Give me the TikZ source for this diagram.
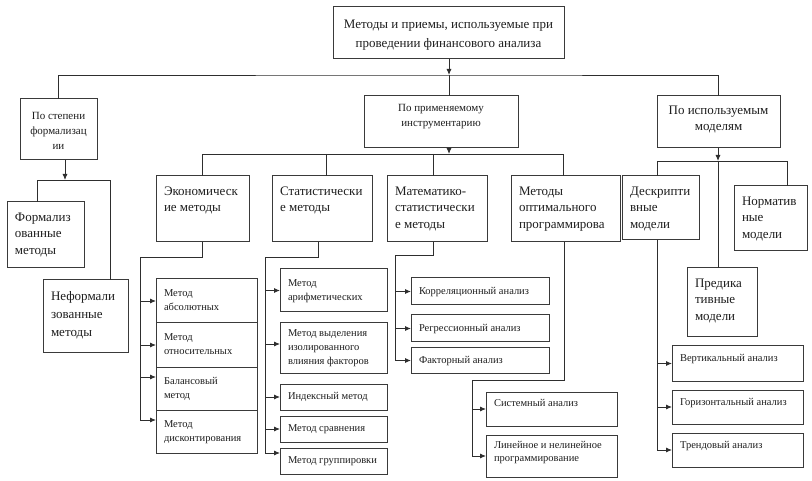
\documentclass[tikz,border=0pt]{standalone}
\usepackage{fontspec}
\setmainfont{Liberation Serif}
\usetikzlibrary{arrows.meta}
\definecolor{bordc}{HTML}{3A3A3A}
\definecolor{linec}{HTML}{2E2E2E}
\definecolor{txtc}{HTML}{1E1E1E}
\newcommand\ftop{\fontsize{13}{19}\selectfont}
\newcommand\fbig{\fontsize{13}{16.5}\selectfont}
\newcommand\fhd{\fontsize{11}{15}\selectfont}
\newcommand\fsm{\fontsize{10.5}{14}\selectfont}
\newcommand\tpad{\vspace*{7.5pt}}
% name, x1, y1, x2, y2, vpos, format, text
\newcommand\bx[8]{%
  \pgfmathsetmacro\bw{#4-#2-16}%
  \pgfmathsetmacro\bh{#5-#3}%
  \node[box,anchor=north west] (#1) at (#2,#3)
    {\parbox[c][\bh pt][#6]{\bw pt}{#7\hyphenpenalty=10000\exhyphenpenalty=10000\strut #8}};}
\tikzset{
  box/.style={draw=bordc,line width=1pt,inner xsep=8pt,inner ysep=0pt,outer sep=0pt,text=txtc,fill=white},
  ln/.style={draw=linec,line width=0.9pt},
  ar/.style={ln,-{Latex[length=6pt,width=5pt]}}
}
\begin{document}
\begin{tikzpicture}[x=1pt,y=-1pt]
\useasboundingbox[fill=white] (0,0) rectangle (812,481);

% ---- level 0 / 1
\bx{top}{333}{7}{564}{59}{c}{\ftop\centering}{Методы и приемы, используемые при\\проведении финансового анализа}
\bx{deg}{20}{99}{97}{160}{c}{\fhd\centering}{По степени\\формализац\\ии}
\bx{inst}{364}{96}{518}{148}{t}{\fhd\centering\vspace*{5pt}}{По применяемому\\инструментарию}
\bx{mod}{657}{96}{780}{148}{t}{\fbig\centering\vspace*{6.5pt}}{По используемым\\моделям}

% ---- level 2
\bx{form}{7}{202}{84}{268}{t}{\fbig\raggedright\tpad}{Формализ\\ованные\\методы}
\bx{inform}{43}{280}{128}{353}{t}{\fontsize{13}{18}\selectfont\raggedright\tpad}{Неформали\\зованные\\методы}
\bx{eco}{156}{176}{249}{242}{t}{\fbig\raggedright\tpad}{Экономическ\\ие методы}
\bx{stat}{272}{176}{372}{242}{t}{\fbig\raggedright\tpad}{Статистически\\е методы}
\bx{math}{387}{176}{487}{242}{t}{\fbig\raggedright\tpad}{Математико-\\статистически\\е методы}
\bx{opt}{511}{176}{620}{242}{t}{\fbig\raggedright\tpad}{Методы\\оптимального\\программирова}
\bx{desc}{622}{176}{699}{240}{t}{\fbig\raggedright\tpad}{Дескрипти\\вные\\модели}
\bx{norm}{734}{186}{807}{251}{t}{\fbig\raggedright\tpad}{Норматив\\ные\\модели}
\bx{pred}{687}{268}{757}{337}{t}{\fbig\raggedright\tpad}{Предика\\тивные\\модели}

% ---- economic methods
\bx{e1}{156}{279}{257}{323}{t}{\fsm\raggedright\tpad}{Метод\\абсолютных}
\bx{e2}{156}{323}{257}{367}{t}{\fsm\raggedright\tpad}{Метод\\относительных}
\bx{e3}{156}{367}{257}{410}{t}{\fsm\raggedright\tpad}{Балансовый\\метод}
\bx{e4}{156}{410}{257}{453}{t}{\fsm\raggedright\tpad}{Метод\\дисконтирования}

% ---- statistical methods
\bx{s1}{280}{269}{387}{312}{t}{\fsm\raggedright\tpad}{Метод\\арифметических}
\bx{s2}{280}{323}{387}{373}{t}{\fsm\raggedright\vspace*{4pt}}{Метод выделения\\изолированного\\влияния факторов}
\bx{s3}{280}{384}{387}{410}{c}{\fsm\raggedright}{Индексный метод}
\bx{s4}{280}{416}{387}{442}{c}{\fsm\raggedright}{Метод сравнения}
\bx{s5}{280}{448}{387}{474}{c}{\fsm\raggedright}{Метод группировки}

% ---- math-stat methods
\bx{m1}{411}{278}{549}{305}{c}{\fsm\raggedright}{Корреляционный анализ}
\bx{m2}{411}{315}{549}{342}{c}{\fsm\raggedright}{Регрессионный анализ}
\bx{m3}{411}{348}{549}{373}{c}{\fsm\raggedright}{Факторный анализ}

% ---- optimal programming
\bx{o1}{486}{392}{617}{426}{t}{\fsm\raggedright\vspace*{5pt}}{Системный анализ}
\bx{o2}{486}{435}{617}{477}{t}{\fontsize{10.5}{12.5}\selectfont\raggedright\vspace*{5pt}}{Линейное и нелинейное\\программирование}

% ---- descriptive models
\bx{d1}{672}{346}{803}{381}{t}{\fsm\raggedright\vspace*{6pt}}{Вертикальный анализ}
\bx{d2}{672}{390}{803}{424}{t}{\fsm\raggedright\vspace*{6pt}}{Горизонтальный анализ}
\bx{d3}{672}{433}{803}{467}{t}{\fsm\raggedright\vspace*{6pt}}{Трендовый анализ}

% ================= connectors
% top bus
\coordinate (j0) at (449,75);
\draw[ar] (top.south -| j0) -- (j0);
\draw[ln] (deg.north) |- (j0) -| (mod.north);
\draw[ln] (j0) -- (j0 |- inst.north);

% formalisation bus
\coordinate (j1) at (65,180);
\coordinate (j1a) at (37,180);
\coordinate (j1b) at (110,180);
\draw[ar] (deg.south -| j1) -- (j1);
\draw[ln] (j1a |- form.north) -- (j1a) -- (j1b) -- (j1b |- inform.north);

% instruments bus
\coordinate (j2) at (449,154);
\coordinate (j2a) at (202,154);
\coordinate (j2b) at (326,154);
\coordinate (j2c) at (433,154);
\coordinate (j2d) at (563,154);
\draw[ar] (j2 |- inst.south) -- (j2);
\draw[ln] (j2a |- eco.north) -- (j2a) -- (j2d) -- (j2d |- opt.north);
\draw[ln] (j2b) -- (j2b |- stat.north);
\draw[ln] (j2c) -- (j2c |- math.north);

% models bus
\coordinate (j3) at (718,161);
\coordinate (j3a) at (657,161);
\coordinate (j3b) at (787,161);
\draw[ar] (j3 |- mod.south) -- (j3);
\draw[ln] (j3a |- desc.north) -- (j3a) -- (j3b) -- (j3b |- norm.north);
\draw[ln] (j3) -- (j3 |- pred.north);

% economic
\coordinate (ke) at (202,257);
\coordinate (kx) at (140,257);
\coordinate (e3a) at ([yshift=11.5pt]e3.west);
\coordinate (e4a) at ([yshift=11.5pt]e4.west);
\draw[ln] (ke |- eco.south) -- (ke) -- (kx) -- (kx |- e4a);
\draw[ar] (kx |- e1.west) -- (e1.west);
\draw[ar] (kx |- e2.west) -- (e2.west);
\draw[ar] (kx |- e3a) -- (e3a);
\draw[ar] (kx |- e4a) -- (e4a);

% statistical
\coordinate (ks) at (318,257);
\coordinate (ksx) at (265,257);
\coordinate (s2a) at ([yshift=4pt]s2.west);
\coordinate (s5a) at ([yshift=8pt]s5.west);
\draw[ln] (ks |- stat.south) -- (ks) -- (ksx) -- (ksx |- s5a);
\draw[ar] (ksx |- s1.west) -- (s1.west);
\draw[ar] (ksx |- s2a) -- (s2a);
\draw[ar] (ksx |- s3.west) -- (s3.west);
\draw[ar] (ksx |- s4.west) -- (s4.west);
\draw[ar] (ksx |- s5a) -- (s5a);

% math-stat
\coordinate (km) at (433,255);
\coordinate (kmx) at (395,255);
\draw[ln] (km |- math.south) -- (km) -- (kmx) -- (kmx |- m3.west);
\draw[ar] (kmx |- m1.west) -- (m1.west);
\draw[ar] (kmx |- m2.west) -- (m2.west);
\draw[ar] (kmx |- m3.west) -- (m3.west);

% optimal programming
\coordinate (ko) at (564,380);
\coordinate (kox) at (472,380);
\draw[ln] (ko |- opt.south) -- (ko) -- (kox) -- (kox |- o2.west);
\draw[ar] (kox |- o1.west) -- (o1.west);
\draw[ar] (kox |- o2.west) -- (o2.west);

% descriptive
\draw[ln] (j3a |- desc.south) -- (j3a |- d3.west);
\draw[ar] (j3a |- d1.west) -- (d1.west);
\draw[ar] (j3a |- d2.west) -- (d2.west);
\draw[ar] (j3a |- d3.west) -- (d3.west);
\end{tikzpicture}
\end{document}
